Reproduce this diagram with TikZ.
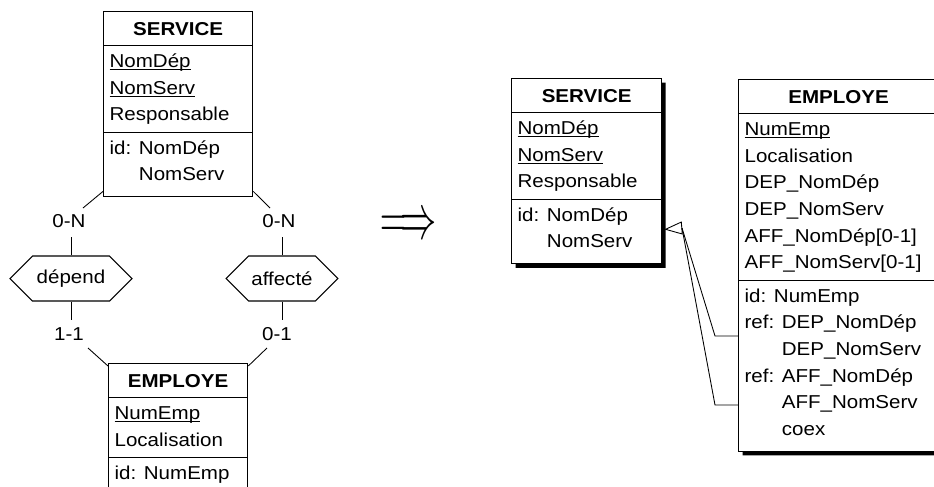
\documentclass[tikz,border=0pt]{standalone}
\usepackage{fontspec}
\setmainfont{Liberation Sans}[FakeStretch=1.1]
\usepackage{tikz}
\usetikzlibrary{shapes.multipart,shapes.symbols,arrows.meta,shadows}

\newlength{\entw}
\newcommand{\idkey}[1]{\leavevmode\setbox0\hbox{#1}\rlap{\rule[-2.2pt]{\wd0}{0.9pt}}\box0}
\newcommand{\enttitle}[1]{\makebox[\entw]{\bfseries\rule[-5pt]{0pt}{20.5pt}#1}}
\newcommand{\entattrs}[1]{\begin{tabular}{@{}p{\entw}@{}}#1\end{tabular}}
\newcommand{\entids}[1]{\begin{tabular}{@{}p{\entw}@{}}#1\rule[-9.5pt]{0pt}{0pt}\end{tabular}}

\tikzset{
  entity/.style={draw, fill=white, line width=0.95pt, rectangle split, rectangle split parts=3,
    anchor=north west, inner xsep=4.5pt, inner ysep=2pt},
  entwidth/.code={\global\entw=#1},
  shadowed/.style={drop shadow={shadow xshift=3pt, shadow yshift=-3pt, opacity=1, fill=black}},
  relship/.style={draw, line width=0.8pt, signal, signal to=west and east,
    signal pointer angle=90, minimum height=33.75pt, inner xsep=2pt},
  card/.style={inner sep=0pt},
  role/.style={line width=0.65pt},
}

\begin{document}
\begin{tikzpicture}[x=0.75pt, y=-0.75pt, font=\fontsize{14}{20}\selectfont]
  \useasboundingbox (0,0) rectangle (934,486);
  % conceptual schema
  \node[entity, entwidth=102.75pt] (srvA) at (103,11)
    {\enttitle{SERVICE}
     \nodepart{two}\entattrs{\idkey{NomDép}\\\idkey{NomServ}\\Responsable}
     \nodepart{three}\entids{id: NomDép\\\phantom{id: }NomServ}};
  \node[entity, entwidth=95.25pt] (empA) at (108,363)
    {\enttitle{EMPLOYE}
     \nodepart{two}\entattrs{\idkey{NumEmp}\\Localisation}
     \nodepart{three}\entids{id: NumEmp}};
  \node[relship, minimum width=91.5pt] (dep) at (71,278.5) {dépend};
  \node[relship, minimum width=83.25pt] (aff) at (282,278.5) {affecté};
  % roles and cardinalities
  \node[card] (cDs) at (69,221) {0-N};
  \node[card] (cAs) at (279,221) {0-N};
  \node[card] (cDe) at (69,334) {1-1};
  \node[card] (cAe) at (277,334) {0-1};
  \coordinate (r1) at (83,208);  \coordinate (r2) at (71,237);
  \coordinate (r3) at (270,208); \coordinate (r4) at (282,237);
  \coordinate (r5) at (71,320);  \coordinate (r6) at (88,348);
  \coordinate (r7) at (282,320); \coordinate (r8) at (267,348);
  \draw[role] (srvA.south west) ++(0,-6) -- (r1);
  \draw[role] (dep.north) -- (r2);
  \draw[role] (srvA.south east) ++(0,-6) -- (r3);
  \draw[role] (aff.north) -- (r4);
  \draw[role] (dep.south) -- (r5);
  \draw[role] (r6) -- ([yshift=-2.25pt]empA.north west);
  \draw[role] (aff.south) -- (r7);
  \draw[role] (r8) -- ([yshift=-2.25pt]empA.north east);

  % transformation
  \node (impl) at (409,227) {\scalebox{1.09}[1.9]{\fontsize{28}{28}\selectfont$\Longrightarrow$}};

  % logical schema
  \node[entity, shadowed, entwidth=103.5pt] (srvB) at (511,78)
    {\enttitle{SERVICE}
     \nodepart{two}\entattrs{\idkey{NomDép}\\\idkey{NomServ}\\Responsable}
     \nodepart{three}\entids{id: NomDép\\\phantom{id: }NomServ}};
  \node[entity, shadowed, entwidth=141pt] (empB) at (738,79)
    {\enttitle{EMPLOYE}
     \nodepart{two}\entattrs{\idkey{NumEmp}\\Localisation\\DEP\_NomDép\\DEP\_NomServ\\AFF\_NomDép[0-1]\\AFF\_NomServ[0-1]}
     \nodepart{three}\entids{id: NumEmp\\ref: DEP\_NomDép\\\phantom{ref: }DEP\_NomServ\\ref: AFF\_NomDép\\\phantom{ref: }AFF\_NomServ\\\phantom{ref: }coex}};
  % foreign keys
  \coordinate (fkbase) at (682,228);
  \coordinate (fk1) at (715,336);
  \coordinate (fk2) at (715,405);
  \draw[role] (empB.west |- fk1) -- (fk1) -- (fkbase);
  \draw[role] (empB.west |- fk2) -- (fk2) -- (fkbase);
  \draw[role, -{Triangle[open, length=13.5pt, width=9.75pt]}] (fkbase) -- ([shift={(2,-35)}]srvB.south east);
\end{tikzpicture}
\end{document}
